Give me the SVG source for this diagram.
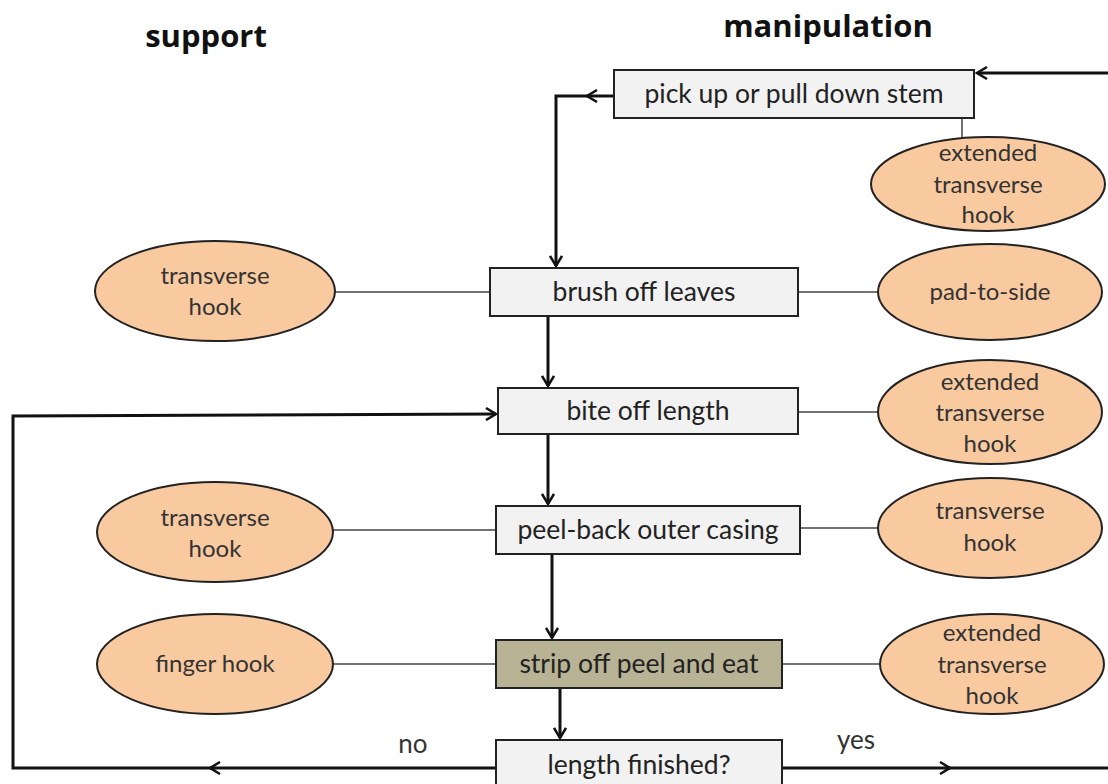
<svg xmlns="http://www.w3.org/2000/svg" width="1108" height="784" viewBox="0 0 1108 784">
<defs>
<marker id="arr" viewBox="0 0 14 14" refX="12" refY="7" markerWidth="14" markerHeight="14" markerUnits="userSpaceOnUse" orient="auto">
<path d="M2,1 L12,7 L2,13" fill="none" stroke="#111" stroke-width="2.5"/>
</marker>
<style>
.box{fill:#f2f2f2;stroke:#222;stroke-width:2}
.eat{fill:#b8b394;stroke:#222;stroke-width:2}
.ell{fill:#f9caa0;stroke:#222;stroke-width:2}
.t{font-family:Lato,"Liberation Sans",sans-serif;font-size:26.5px;fill:#222;text-anchor:middle}
.te{font-family:Lato,"Liberation Sans",sans-serif;font-size:24px;fill:#333;text-anchor:middle}
.tl{font-family:Lato,"Liberation Sans",sans-serif;font-size:26px;fill:#333;text-anchor:middle}
.h{font-family:"Open Sans","Liberation Sans",sans-serif;font-size:31px;font-weight:bold;fill:#111;text-anchor:middle}
.thin{stroke:#444;stroke-width:1.5;fill:none}
.thick{stroke:#111;stroke-width:3;fill:none}
</style>
</defs>
<rect width="1108" height="784" fill="#fff"/>
<text class="h" x="206" y="47">support</text>
<text class="h" x="828" y="37">manipulation</text>
<g id="connectors">
<line class="thin" x1="962" y1="118" x2="962" y2="137"/>
<line class="thin" x1="335" y1="292" x2="490" y2="292"/>
<line class="thin" x1="798" y1="292" x2="878" y2="292"/>
<line class="thin" x1="798" y1="412" x2="878" y2="412"/>
<line class="thin" x1="333" y1="530" x2="496" y2="530"/>
<line class="thin" x1="800" y1="528" x2="878" y2="528"/>
<line class="thin" x1="333" y1="664" x2="496" y2="664"/>
<line class="thin" x1="782" y1="664" x2="880" y2="664"/>
<path class="thick" d="M1108,73 L977,73" marker-end="url(#arr)"/>
<path class="thick" d="M614,96 L587,96" marker-end="url(#arr)"/>
<path class="thick" d="M590,96 L556,96 L556,266" marker-end="url(#arr)"/>
<path class="thick" d="M548,316 L548,386" marker-end="url(#arr)"/>
<path class="thick" d="M548,434 L548,504" marker-end="url(#arr)"/>
<path class="thick" d="M552,554 L552,638" marker-end="url(#arr)"/>
<path class="thick" d="M560,688 L560,738" marker-end="url(#arr)"/>
<path class="thick" d="M782,768 L950,768" marker-end="url(#arr)"/>
<path class="thick" d="M945,768 L1108,768"/>
<path class="thick" d="M496,768 L210,768" marker-end="url(#arr)"/>
<path class="thick" d="M215,768 L13,768 L13,416 L496,414" marker-end="url(#arr)"/>
<text class="tl" x="413" y="753">no</text>
<text class="tl" x="856" y="749">yes</text>
</g>
<g id="pickup"><rect class="box" x="614" y="70" width="360" height="48"/><text class="t" x="794" y="103">pick up or pull down stem</text></g>
<g id="brush"><rect class="box" x="490" y="268" width="308" height="48"/><text class="t" x="644" y="301">brush off leaves</text></g>
<g id="bite"><rect class="box" x="498" y="388" width="300" height="46"/><text class="t" x="648" y="420">bite off length</text></g>
<g id="peel"><rect class="box" x="496" y="506" width="304" height="48"/><text class="t" x="648" y="539">peel-back outer casing</text></g>
<g id="strip"><rect class="eat" x="496" y="640" width="286" height="48"/><text class="t" x="639" y="673">strip off peel and eat</text></g>
<g id="finished"><rect class="box" x="496" y="740" width="286" height="56"/><text class="t" x="639" y="774">length finished?</text></g>
<g id="e1"><ellipse class="ell" cx="988" cy="184" rx="117" ry="47"/><text class="te" x="988" y="161">extended</text><text class="te" x="988" y="193">transverse</text><text class="te" x="988" y="223">hook</text></g>
<g id="e2"><ellipse class="ell" cx="215" cy="291" rx="120" ry="50"/><text class="te" x="215" y="284">transverse</text><text class="te" x="215" y="315">hook</text></g>
<g id="e3"><ellipse class="ell" cx="990" cy="292" rx="112" ry="48"/><text class="te" x="990" y="300">pad-to-side</text></g>
<g id="e4"><ellipse class="ell" cx="990" cy="412" rx="112" ry="52"/><text class="te" x="990" y="390">extended</text><text class="te" x="990" y="421">transverse</text><text class="te" x="990" y="452">hook</text></g>
<g id="e5"><ellipse class="ell" cx="215" cy="532" rx="118" ry="50"/><text class="te" x="215" y="526">transverse</text><text class="te" x="215" y="557">hook</text></g>
<g id="e6"><ellipse class="ell" cx="990" cy="528" rx="112" ry="50"/><text class="te" x="990" y="519">transverse</text><text class="te" x="990" y="551">hook</text></g>
<g id="e7"><ellipse class="ell" cx="215" cy="664" rx="118" ry="50"/><text class="te" x="215" y="672">finger hook</text></g>
<g id="e8"><ellipse class="ell" cx="992" cy="664" rx="112" ry="50"/><text class="te" x="992" y="641">extended</text><text class="te" x="992" y="673">transverse</text><text class="te" x="992" y="704">hook</text></g>
</svg>
